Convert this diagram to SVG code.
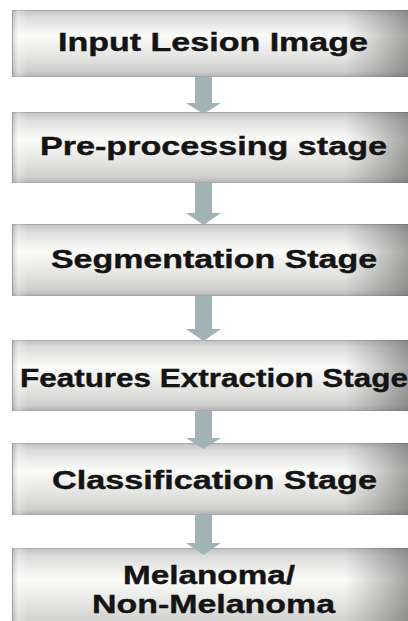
<svg xmlns="http://www.w3.org/2000/svg" width="408" height="621" viewBox="0 0 408 621">
  <defs>
    <!-- metallic bar: light band across the upper middle -->
    <linearGradient id="barV" x1="0" y1="0" x2="0" y2="1">
      <stop offset="0" stop-color="#c2c2c4"/>
      <stop offset="0.1" stop-color="#dcdcdc"/>
      <stop offset="0.38" stop-color="#fbfbf9"/>
      <stop offset="0.7" stop-color="#e4e4e2"/>
      <stop offset="0.92" stop-color="#cfcfcd"/>
      <stop offset="1" stop-color="#b4b4b6"/>
    </linearGradient>
    <!-- shading toward the ends of the bar -->
    <linearGradient id="barH" x1="0" y1="0" x2="1" y2="0">
      <stop offset="0" stop-color="#808080" stop-opacity="0.3"/>
      <stop offset="0.015" stop-color="#ffffff" stop-opacity="0.3"/>
      <stop offset="0.04" stop-color="#ffffff" stop-opacity="0"/>
      <stop offset="0.84" stop-color="#5a5a5a" stop-opacity="0"/>
      <stop offset="1" stop-color="#4a4a4a" stop-opacity="0.5"/>
    </linearGradient>
  </defs>
  <style>
    .bar { fill: url(#barV); stroke: #a8a8ac; stroke-width: 1; }
    .shade { fill: url(#barH); }
    .label { font-family: "Liberation Sans", Arial, sans-serif; font-weight: bold; font-size: 26px; fill: #141414; text-anchor: middle; stroke: #141414; stroke-width: 0.4; }
    .arrow { fill: #a1b3b7; }
  </style>

  <rect width="408" height="621" fill="#ffffff"/>

  <g id="input">
    <rect class="bar" x="12.5" y="10.5" width="400" height="66"/>
    <rect class="shade" x="12" y="10" width="396" height="67"/>
    <text class="label" x="213" y="51" textLength="310" lengthAdjust="spacingAndGlyphs">Input Lesion Image</text>
  </g>

  <g id="preprocessing">
    <rect class="bar" x="12.5" y="112.5" width="400" height="70"/>
    <rect class="shade" x="12" y="112" width="396" height="71"/>
    <text class="label" x="213.5" y="155" textLength="347" lengthAdjust="spacingAndGlyphs">Pre-processing stage</text>
  </g>

  <g id="segmentation">
    <rect class="bar" x="12.5" y="224.5" width="400" height="71"/>
    <rect class="shade" x="12" y="224" width="396" height="72"/>
    <text class="label" x="214" y="268" textLength="326" lengthAdjust="spacingAndGlyphs">Segmentation Stage</text>
  </g>

  <g id="features">
    <rect class="bar" x="12.5" y="340.5" width="400" height="70"/>
    <rect class="shade" x="12" y="340" width="396" height="71"/>
    <text class="label" x="214" y="387" textLength="388" lengthAdjust="spacingAndGlyphs">Features Extraction Stage</text>
  </g>

  <g id="classification">
    <rect class="bar" x="12.5" y="443.5" width="400" height="71"/>
    <rect class="shade" x="12" y="443" width="396" height="72"/>
    <text class="label" x="214.5" y="489" textLength="325" lengthAdjust="spacingAndGlyphs">Classification Stage</text>
  </g>

  <g id="result">
    <rect class="bar" x="12.5" y="548.5" width="400" height="80"/>
    <rect class="shade" x="12" y="548" width="396" height="81"/>
    <text class="label" x="209" y="584" textLength="172" lengthAdjust="spacingAndGlyphs">Melanoma/</text>
    <text class="label" x="213.5" y="613" textLength="243" lengthAdjust="spacingAndGlyphs">Non-Melanoma</text>
  </g>

  <g id="connectors">
    <polygon class="arrow" points="195,77 212,77 212,103 221,103 203.5,114 186,103 195,103"/>
    <polygon class="arrow" points="195,183 212,183 212,213 221,213 203.5,225 186,213 195,213"/>
    <polygon class="arrow" points="195,296 212,296 212,329 221,329 203.5,341 186,329 195,329"/>
    <polygon class="arrow" points="195,411 212,411 212,438 221,438 203.5,449 186,438 195,438"/>
    <polygon class="arrow" points="195,515 212,515 212,543 221,543 203.5,555 186,543 195,543"/>
  </g>
</svg>
